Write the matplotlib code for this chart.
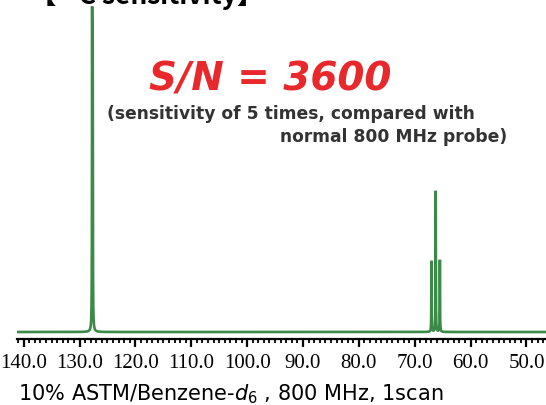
import matplotlib.pyplot as plt
import numpy as np

# peak list (ppm, height in px above baseline)
peak_ppm = [127.75, 127.65, 67.0, 66.25, 65.5]
peak_height = [302, 285, 71, 141, 72]
peak_width = 0.03  # half width, ppm

x_ticks = [140, 130, 120, 110, 100, 90, 80, 70, 60, 50]

ppm = np.linspace(141.2, 46.5, 40000)
spec = np.zeros_like(ppm)
for p, h in zip(peak_ppm, peak_height):
    spec += h * peak_width**2 / ((ppm - p)**2 + peak_width**2)

fig = plt.figure(figsize=(5.46, 4.06), dpi=100)
W, H = 546, 406
# axes: spine at y=340 px, left edge at x=17 px
ax = fig.add_axes([17 / W, (H - 340) / H, 1 - 17 / W, 340 / H])
ax.plot(ppm, spec, color='#3b8a48', linewidth=1.9, solid_joinstyle='miter')
ax.set_xlim(141.2, 46.5)
ax.set_ylim(-7, 333)

for s in ['top', 'left', 'right']:
    ax.spines[s].set_visible(False)
ax.spines['bottom'].set_linewidth(1.6)
ax.set_yticks([])
ax.set_xticks(x_ticks)
ax.set_xticklabels(['%.1f' % t for t in x_ticks], fontfamily='Liberation Serif', fontsize=15)
ax.set_xticks(np.arange(47, 142, 1), minor=True)
ax.tick_params(axis='x', which='major', direction='out', length=6, width=1.6, pad=4)
ax.tick_params(axis='x', which='minor', direction='out', length=3, width=1.3)
ax.patch.set_alpha(0)

# title cut off at the top of the picture
fig.text(30 / W, 1 - 4 / H, '【¹³C sensitivity】', fontsize=19, fontweight='bold',
         family=['Noto Sans CJK JP', 'DejaVu Sans'], ha='left', va='baseline')

fig.text(270 / W, 1 - 80 / H, 'S/N = 3600', color='#e8282b', fontsize=28,
         fontweight='bold', fontstyle='italic', ha='center', va='center')
fig.text(107 / W, 1 - 114 / H, '(sensitivity of 5 times, compared with', color='#333333',
         fontsize=12.3, fontweight='bold', ha='left', va='center')
fig.text(507 / W, 1 - 137 / H, 'normal 800 MHz probe)', color='#333333',
         fontsize=12.3, fontweight='bold', ha='right', va='center')

fig.text(18 / W, 1 - 400 / H, r'10% ASTM/Benzene-$\mathit{d}_{6}$ , 800 MHz, 1scan',
         fontsize=15, ha='left', va='baseline')

fig.savefig('out.png', dpi=100)
